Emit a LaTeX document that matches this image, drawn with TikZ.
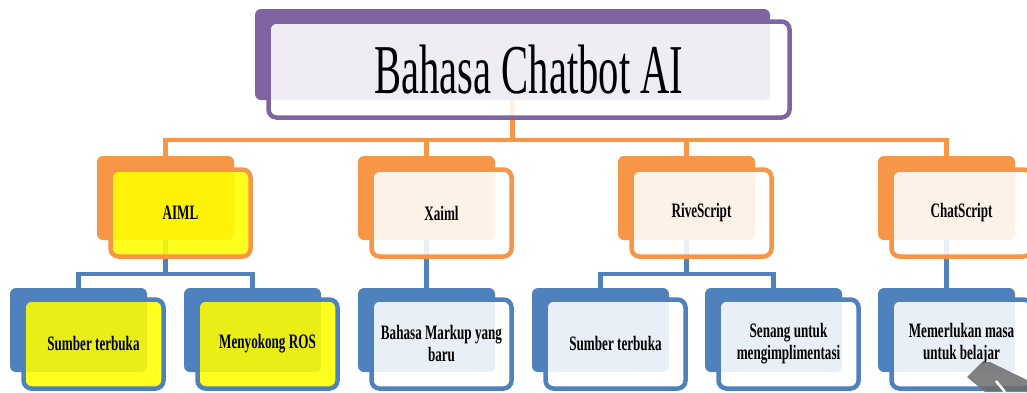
\documentclass[tikz,border=0pt]{standalone}
\usepackage{fontspec}
\setmainfont{Liberation Serif}
\newfontfamily\titlefont[FakeStretch=0.58]{Liberation Serif}
\newfontfamily\lblfont[FakeStretch=0.64]{Liberation Serif}
\definecolor{cpurple}{HTML}{8064A2}
\definecolor{corange}{HTML}{F79646}
\definecolor{cblue}{HTML}{4F81BD}
\definecolor{cyellow}{HTML}{FFFF00}
\definecolor{cgray}{HTML}{6B6B6B}
\tikzset{
  backbox/.style={anchor=north west, inner sep=0pt, outer sep=0pt, rounded corners=6pt, draw=none},
  frontbox/.style={anchor=north west, inner sep=0pt, outer sep=0pt, rounded corners=8pt,
    line width=4.5pt, fill opacity=0.88, text opacity=1, draw opacity=1, align=center,
    font=\lblfont\bfseries\fontsize{20.5}{22}\selectfont},
  lvlb/.style={backbox, minimum width=137pt, minimum height=84pt},
  lvltwof/.style={frontbox, minimum width=140pt, minimum height=87pt},
  lvlthreef/.style={frontbox, minimum width=140pt, minimum height=89pt},
  conn/.style={line width=4.5pt},
}
\begin{document}
\begin{tikzpicture}[x=1pt,y=-1pt]
\useasboundingbox (0,0) rectangle (1027,392);
\clip (0,0) rectangle (1027,392);
\fill[white] (0,0) rectangle (1027,392);

% back boxes
\node[backbox, fill=cpurple, minimum width=515pt, minimum height=91pt] (title-b) at (255,9) {};
\node[lvlb, fill=corange] (aiml-b)  at (97,156) {};
\node[lvlb, fill=corange] (xaiml-b) at (358,156) {};
\node[lvlb, fill=corange] (rive-b)  at (618,156) {};
\node[lvlb, fill=corange] (chat-b)  at (878,156) {};
\node[lvlb, fill=cblue] (s1-b)     at (10,288) {};
\node[lvlb, fill=cblue] (ros-b)    at (184,288) {};
\node[lvlb, fill=cblue] (markup-b) at (358,288) {};
\node[lvlb, fill=cblue] (s2-b)     at (532,288) {};
\node[lvlb, fill=cblue] (senang-b) at (705,288) {};
\node[lvlb, fill=cblue] (masa-b)   at (878,288) {};

% connectors
\coordinate (hub) at (512.5,140);
\draw[conn, corange] (title-b.south) -- (hub);
\draw[conn, corange] (aiml-b.north) |- (hub);
\draw[conn, corange] (xaiml-b.north) |- (hub);
\draw[conn, corange] (rive-b.north) |- (hub);
\draw[conn, corange] (chat-b.north) |- (hub);
\coordinate (aimlhub) at (165.5,274);
\draw[conn, cblue] (aiml-b.south) -- (aimlhub);
\draw[conn, cblue] (s1-b.north) |- (aimlhub);
\draw[conn, cblue] (ros-b.north) |- (aimlhub);
\draw[conn, cblue] (xaiml-b.south) -- (markup-b.north);
\coordinate (rivehub) at (686.5,274);
\draw[conn, cblue] (rive-b.south) -- (rivehub);
\draw[conn, cblue] (s2-b.north) |- (rivehub);
\draw[conn, cblue] (senang-b.north) |- (rivehub);
\draw[conn, cblue] (chat-b.south) -- (masa-b.north);

% front boxes
\node[frontbox, draw=cpurple, fill=white, minimum width=521pt, minimum height=96pt,
  font=\titlefont\fontsize{70}{72}\selectfont] (title) at ([shift={(13.5,12.5)}]title-b.north west) {Bahasa Chatbot AI};
\node[lvltwof, draw=corange, fill=cyellow] (aiml)  at ([shift={(13.5,13.5)}]aiml-b.north west) {AIML};
\node[lvltwof, draw=corange, fill=white]   (xaiml) at ([shift={(13.5,13.5)}]xaiml-b.north west) {Xaiml};
\node[lvltwof, draw=corange, fill=white]   (rive)  at ([shift={(13.5,13.5)}]rive-b.north west) {RiveScript};
\node[lvltwof, draw=corange, fill=white]   (chat)  at ([shift={(13.5,13.5)}]chat-b.north west) {ChatScript};
\node[lvlthreef, draw=cblue, fill=cyellow] (s1)     at ([shift={(13.5,11.5)}]s1-b.north west) {Sumber terbuka};
\node[lvlthreef, draw=cblue, fill=cyellow] (ros)    at ([shift={(13.5,11.5)}]ros-b.north west) {Menyokong ROS};
\node[lvlthreef, draw=cblue, fill=white]   (markup) at ([shift={(13.5,11.5)}]markup-b.north west) {Bahasa Markup yang\\baru};
\node[lvlthreef, draw=cblue, fill=white]   (s2)     at ([shift={(13.5,11.5)}]s2-b.north west) {Sumber terbuka};
\node[lvlthreef, draw=cblue, fill=white]   (senang) at ([shift={(13.5,11.5)}]senang-b.north west) {Senang untuk\\mengimplimentasi};
\node[lvlthreef, draw=cblue, fill=white]   (masa)   at ([shift={(13.5,11.5)}]masa-b.north west) {Memerlukan masa\\untuk belajar};

% grey shape at the lower right corner
\fill[cgray, fill opacity=0.85] (967,377) -- (982,362) -- (990,362) -- (1027,380) -- (1027,392) -- (985,392) -- cycle;
\draw[white, line width=2.5pt] (996,381) -- (1005,392);
\end{tikzpicture}
\end{document}
